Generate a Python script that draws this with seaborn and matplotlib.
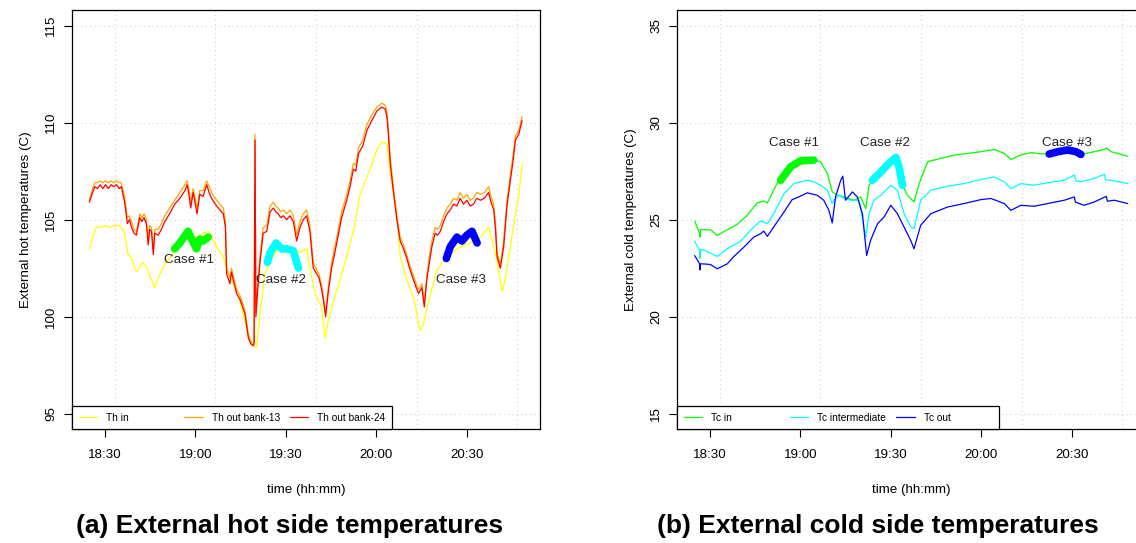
import matplotlib
matplotlib.use("Agg")
import matplotlib.pyplot as plt
import seaborn as sns
from matplotlib.lines import Line2D
from matplotlib.offsetbox import DrawingArea

# === Data (time in minutes after 18:00) ===
hot_time = [
    24.9, 26.0, 26.7, 27.6, 28.5, 29.4, 30.3, 31.2, 32.1, 33.0,
    33.9, 34.8, 35.5, 36.6, 37.5, 38.2, 38.9, 39.7, 40.5, 41.6,
    42.3, 43.0, 43.8, 44.4, 44.9, 45.5, 46.1, 46.6, 47.7, 48.8,
    49.9, 51.5, 53.2, 54.9, 56.6, 57.3, 57.9, 58.5, 59.3, 60.6,
    61.5, 62.6, 63.8, 64.6, 65.4, 66.2, 67.1, 68.2, 69.3, 70.0,
    70.4, 71.5, 72.0, 72.6, 73.7, 74.8, 75.7, 76.5, 77.6, 78.4,
    79.2, 79.5, 79.8, 80.1, 80.6, 81.4, 82.5, 83.7, 84.8, 85.9,
    86.7, 87.5, 88.3, 89.2, 90.3, 91.4, 92.5, 93.6, 94.7, 95.8,
    96.9, 98.0, 99.1, 100.3, 101.0, 101.9, 102.5, 103.2, 104.1, 105.2,
    106.9, 108.5, 110.2, 111.3, 112.4, 113.2, 114.1, 115.5, 116.9, 118.5,
    120.2, 121.8, 122.9, 123.5, 124.0, 124.6, 125.7, 126.8, 127.9, 129.0,
    130.1, 131.2, 132.3, 133.2, 134.0, 135.1, 135.9, 136.8, 137.6, 138.4,
    139.5, 140.3, 141.2, 142.3, 143.4, 144.5, 145.6, 146.7, 147.8, 148.9,
    150.0, 151.1, 152.2, 153.3, 154.5, 155.8, 157.2, 158.0, 158.9, 159.5,
    160.0, 161.1, 162.2, 163.3, 164.4, 165.3, 166.1, 167.2, 168.3,
]
th_out_24 = [
    105.9, 106.4, 106.7, 106.6, 106.8, 106.6, 106.8, 106.6, 106.8, 106.7,
    106.8, 106.6, 106.7, 105.9, 104.8, 105.0, 104.6, 104.3, 104.2, 105.1,
    104.9, 105.1, 104.8, 103.7, 104.5, 104.4, 103.2, 104.3, 104.2, 104.5,
    104.9, 105.3, 105.8, 106.1, 106.5, 106.8, 106.3, 105.6, 106.4, 105.3,
    106.3, 106.2, 106.8, 106.4, 106.1, 105.9, 105.7, 105.5, 105.3, 104.6,
    102.2, 101.7, 102.3, 101.9, 101.2, 100.9, 100.5, 100.1, 98.9, 98.6,
    98.5, 98.6, 109.1, 100.0, 101.2, 102.7, 104.3, 104.4, 105.4, 105.6,
    105.4, 105.3, 105.1, 105.2, 105.0, 105.2, 104.9, 103.9, 104.6, 105.0,
    105.2, 104.4, 102.5, 102.2, 102.0, 101.4, 100.8, 100.0, 101.3, 102.5,
    103.8, 105.1, 106.0, 106.7, 107.6, 107.5, 108.4, 108.8, 109.6, 110.1,
    110.6, 110.8, 110.7, 110.3, 109.4, 107.9, 106.4, 105.0, 103.9, 103.5,
    103.0, 102.4, 101.9, 101.5, 101.2, 101.5, 100.5, 102.0, 102.8, 103.6,
    104.3, 104.2, 104.4, 104.9, 105.3, 105.5, 105.8, 105.7, 106.1, 105.8,
    106.0, 105.7, 105.8, 106.1, 106.0, 106.1, 106.4, 105.9, 105.5, 104.5,
    103.1, 102.5, 103.6, 105.7, 107.0, 108.0, 109.1, 109.4, 110.1,
]
th_out_13 = [
    106.0, 106.6, 106.9, 106.9, 107.0, 106.9, 107.0, 106.9, 107.0, 106.9,
    107.0, 106.9, 106.9, 106.2, 105.1, 105.2, 104.9, 104.5, 104.4, 105.3,
    105.1, 105.3, 105.0, 104.0, 104.7, 104.6, 103.5, 104.5, 104.5, 104.8,
    105.2, 105.6, 106.0, 106.4, 106.8, 107.0, 106.6, 105.9, 106.6, 105.6,
    106.5, 106.5, 107.0, 106.7, 106.4, 106.2, 106.0, 105.8, 105.6, 104.9,
    102.5, 102.0, 102.5, 102.1, 101.4, 101.1, 100.7, 100.3, 99.1, 98.7,
    98.6, 98.7, 109.4, 100.2, 101.4, 103.0, 104.6, 104.7, 105.7, 105.9,
    105.7, 105.6, 105.4, 105.5, 105.3, 105.5, 105.2, 104.2, 104.9, 105.3,
    105.5, 104.7, 102.8, 102.4, 102.2, 101.6, 101.0, 100.2, 101.5, 102.8,
    104.1, 105.4, 106.3, 107.0, 107.9, 107.8, 108.7, 109.1, 109.9, 110.4,
    110.8, 111.0, 110.9, 110.6, 109.7, 108.2, 106.6, 105.2, 104.1, 103.7,
    103.2, 102.6, 102.1, 101.7, 101.4, 101.7, 100.7, 102.2, 103.1, 103.9,
    104.6, 104.5, 104.7, 105.2, 105.6, 105.8, 106.1, 106.0, 106.4, 106.1,
    106.3, 106.0, 106.1, 106.4, 106.3, 106.4, 106.7, 106.2, 105.8, 104.8,
    103.3, 102.7, 103.9, 106.0, 107.3, 108.3, 109.3, 109.6, 110.3,
]
th_in_time = [
    24.9, 26.0, 27.2, 28.5, 30.0, 31.7, 33.3, 35.0, 36.6, 37.7,
    38.9, 40.5, 41.5, 42.4, 43.8, 45.2, 46.6, 47.7, 49.9, 51.5,
    53.2, 55.0, 57.0, 59.0, 61.0, 62.6, 64.3, 65.7, 67.1, 69.3,
    70.9, 72.6, 74.8, 77.0, 78.7, 80.3, 81.4, 83.1, 84.8, 87.0,
    89.5, 92.0, 94.5, 96.9, 98.0, 99.7, 101.9, 103.0, 104.1, 105.8,
    109.1, 112.4, 114.6, 117.9, 120.2, 121.8, 123.5, 124.6, 125.7, 126.8,
    127.9, 130.1, 132.3, 134.5, 135.6, 136.8, 140.1, 142.3, 145.0, 148.0,
    151.0, 154.5, 157.2, 158.9, 160.0, 161.7, 162.8, 164.4, 166.1, 167.2,
    168.3,
]
th_in = [
    103.5, 104.1, 104.6, 104.6, 104.7, 104.6, 104.7, 104.7, 104.3, 103.2,
    103.0, 102.3, 102.5, 102.8, 102.6, 102.0, 101.5, 102.0, 102.7, 103.0,
    103.4, 103.8, 104.1, 104.2, 104.1, 104.3, 104.4, 104.0, 103.6, 103.1,
    102.2, 101.7, 100.8, 99.4, 98.6, 98.4, 100.1, 102.2, 102.9, 103.4,
    103.6, 103.5, 103.3, 103.5, 102.5, 101.2, 100.5, 98.9, 99.8, 100.8,
    102.5, 104.4, 106.3, 107.6, 108.6, 109.0, 108.9, 107.4, 106.3, 105.3,
    103.1, 101.9, 101.0, 99.3, 99.6, 100.5, 102.4, 102.9, 103.3, 103.6,
    103.8, 104.1, 104.6, 103.6, 102.9, 101.3, 102.0, 103.6, 105.3, 106.2,
    107.9,
]

hot_case_time = [
    [53.2, 54.9, 57.6, 58.8, 60.4, 61.5, 62.6, 64.3],
    [83.9, 84.8, 86.8, 88.6, 90.3, 92.5, 93.6, 94.2],
    [143.2, 144.5, 146.7, 148.4, 150.0, 151.7, 153.4],
]
hot_case_temp = [
    [103.5, 103.8, 104.4, 104.0, 103.5, 104.0, 103.9, 104.1],
    [102.8, 103.3, 103.8, 103.5, 103.5, 103.4, 102.8, 102.5],
    [103.0, 103.6, 104.1, 103.9, 104.2, 104.4, 103.8],
]
hot_label_pos = [(57.9, 102.9), (88.3, 101.9), (148.2, 101.9)]

tc_in_time = [
    25.0, 26.7, 26.8, 26.9, 30.2, 32.5, 35.8, 39.1, 42.4, 45.7,
    47.9, 49.1, 50.1, 52.4, 53.5, 56.8, 60.1, 64.5, 66.7, 69.0,
    70.6, 72.3, 74.5, 77.8, 80.0, 81.7, 82.8, 83.9, 86.7, 89.4,
    91.7, 92.7, 93.9, 95.5, 97.7, 99.4, 102.2, 106.6, 111.0, 115.4,
    119.8, 124.3, 127.6, 129.8, 133.1, 136.4, 139.8, 142.5, 145.3, 148.6,
    151.4, 153.0, 157.4, 160.8, 161.4, 163.0, 168.5,
]
tc_in = [
    24.93, 24.27, 24.1, 24.48, 24.48, 24.19, 24.48, 24.76, 25.22, 25.86,
    25.96, 25.86, 26.17, 26.9, 27.03, 27.72, 28.03, 28.07, 27.98, 27.38,
    26.43, 26.26, 26.17, 26.0, 26.17, 25.57, 26.77, 27.03, 27.46, 27.9,
    28.24, 27.72, 26.77, 26.26, 25.91, 26.86, 27.98, 28.16, 28.33, 28.41,
    28.5, 28.62, 28.41, 28.1, 28.33, 28.45, 28.4, 28.38, 28.5, 28.59,
    28.5, 28.36, 28.5, 28.62, 28.7, 28.5, 28.27,
]
tc_mid_time = [
    25.0, 26.7, 26.8, 26.9, 28.0, 32.5, 35.8, 40.2, 43.5, 46.8,
    49.1, 51.2, 54.6, 57.9, 62.3, 64.5, 66.7, 69.0, 70.6, 71.2,
    72.8, 74.5, 76.7, 79.5, 80.6, 81.7, 82.8, 84.4, 86.7, 90.0,
    92.2, 94.4, 96.6, 97.7, 99.9, 103.3, 108.8, 114.3, 119.8, 124.3,
    127.6, 129.8, 133.1, 137.5, 142.0, 147.5, 150.8, 151.4, 153.0, 157.4,
    160.8, 161.2, 163.0, 168.5,
]
tc_mid = [
    23.89, 23.41, 23.0, 23.45, 23.45, 23.1, 23.5, 23.89, 24.45, 24.93,
    24.8, 25.31, 26.34, 26.86, 27.03, 26.95, 26.77, 26.52, 25.83, 26.0,
    26.26, 26.1, 26.0, 26.0, 25.05, 24.1, 25.31, 26.0, 26.26, 26.77,
    26.52, 25.31, 24.62, 24.53, 26.0, 26.52, 26.72, 26.86, 27.07, 27.2,
    26.95, 26.6, 26.86, 26.77, 26.9, 27.03, 27.3, 27.0, 26.95, 27.12,
    27.34, 27.05, 27.03, 26.86,
]
tc_out_time = [
    25.0, 26.7, 26.8, 26.9, 28.0, 30.2, 32.5, 35.8, 38.0, 41.3,
    44.6, 46.8, 47.9, 49.1, 51.2, 54.6, 57.3, 59.5, 62.3, 65.6,
    67.8, 69.5, 70.6, 71.7, 73.4, 74.1, 75.0, 77.3, 78.9, 80.6,
    82.0, 83.3, 85.6, 87.8, 90.0, 92.2, 94.4, 96.6, 97.7, 99.9,
    103.3, 108.8, 114.3, 119.8, 123.2, 127.6, 129.8, 133.1, 137.5, 142.0,
    147.5, 150.8, 151.2, 154.1, 157.4, 161.4, 161.8, 164.1, 168.5,
]
tc_out = [
    23.15, 22.72, 22.41, 22.72, 22.72, 22.69, 22.47, 22.72, 23.1, 23.58,
    24.1, 24.27, 24.41, 24.14, 24.62, 25.39, 26.03, 26.17, 26.38, 26.26,
    26.0, 25.48, 24.83, 26.17, 27.03, 27.24, 26.0, 26.43, 26.17, 25.31,
    23.15, 23.93, 24.79, 25.14, 25.74, 25.31, 24.62, 23.93, 23.5, 24.71,
    25.31, 25.65, 25.83, 26.03, 26.09, 25.83, 25.48, 25.74, 25.69, 25.83,
    26.0, 26.17, 25.9, 25.74, 25.91, 26.2, 25.95, 26.0, 25.83,
]

cold_case_time = [
    [53.5, 56.8, 60.1, 64.5],
    [83.9, 86.7, 89.4, 91.7, 92.7, 93.9],
    [142.5, 145.3, 148.6, 151.4, 153.0],
]
cold_case_temp = [
    [27.03, 27.72, 28.03, 28.07],
    [27.03, 27.46, 27.9, 28.21, 27.72, 26.77],
    [28.38, 28.5, 28.59, 28.5, 28.36],
]
cold_label_pos = [(57.9, 28.93), (88.0, 28.93), (148.3, 28.93)]

case_names = ["Case #1", "Case #2", "Case #3"]
case_colors = ["#00FF00", "#00FFFF", "#0000FF"]

hot_labels = ["Th in", "Th out bank-13", "Th out bank-24"]
hot_colors = ["#FFFF00", "#FFA500", "#FF0000"]
cold_labels = ["Tc in", "Tc intermediate", "Tc out"]
cold_colors = ["#00FF00", "#00FFFF", "#0000FF"]

tick_pos = [30, 60, 90, 120, 150]
tick_labels = ["18:30", "19:00", "19:30", "20:00", "20:30"]
grid_pos = [100 / 3 * k for k in range(1, 6)]

# === Style ===
sns.set_style("ticks")
plt.rcParams["font.family"] = ["Liberation Sans", "DejaVu Sans"]
for key in ["text.color", "axes.labelcolor", "xtick.color", "ytick.color"]:
    plt.rcParams[key] = "black"
FS = 9.6
GRID = dict(color="#D3D3D3", linestyle=(0, (1, 3)), linewidth=0.8)

fig = plt.figure(figsize=(11.36, 5.43), dpi=100)
ax_hot = fig.add_axes([0.06338, 0.20939, 0.41197, 0.77219])
ax_cold = fig.add_axes([0.59595, 0.20939, 0.41197, 0.77219])


def draw_panel(ax, series, case_t, case_v, label_pos, ylim, yticks, ylabel, labels, colors):
    for t, v, c in series:
        sns.lineplot(x=t, y=v, color=c, lw=0.9, ax=ax, estimator=None, sort=False)
    for t, v, c in zip(case_t, case_v, case_colors):
        sns.lineplot(x=t, y=v, color=c, lw=5.5, ax=ax, estimator=None, sort=False,
                     solid_capstyle="round")
    for (x, y), name in zip(label_pos, case_names):
        ax.text(x, y, name, ha="center", va="center", fontsize=FS, color="#222222")

    ax.set_xlim(19.16, 174.24)
    ax.set_ylim(*ylim)
    ax.set_xticks(tick_pos)
    ax.set_xticklabels(tick_labels)
    ax.set_xticks(grid_pos, minor=True)
    ax.set_yticks(yticks)
    ax.grid(False)
    ax.grid(axis="x", which="minor", **GRID)
    ax.grid(axis="y", which="major", **GRID)
    ax.set_axisbelow(True)

    ax.tick_params(axis="x", which="minor", length=0)
    ax.tick_params(axis="x", which="major", length=6, width=0.8, pad=8, labelsize=FS)
    ax.tick_params(axis="y", length=6, width=0.8, pad=4.5, labelsize=FS, labelrotation=90)
    plt.setp(ax.get_yticklabels(), va="center")
    for sp in ax.spines.values():
        sp.set_visible(True)
        sp.set_color("black")
        sp.set_linewidth(0.9)

    ax.set_xlabel("time (hh:mm)", fontsize=FS, labelpad=16.5)
    ax.set_ylabel(ylabel, fontsize=FS, labelpad=10)

    handles = [Line2D([], [], color=c, lw=0.9) for c in colors]
    leg = ax.legend(handles, labels, loc="lower left", bbox_to_anchor=(0, 0), borderaxespad=0,
                    ncol=3, fontsize=7.3, handlelength=1.8, handletextpad=0.9,
                    columnspacing=1.0, borderpad=0.65, frameon=True, fancybox=False,
                    edgecolor="black", framealpha=1, facecolor="white")
    leg.get_frame().set_linewidth(0.9)
    return leg


leg_hot = draw_panel(ax_hot, [(th_in_time, th_in, hot_colors[0]),
                              (hot_time, th_out_13, hot_colors[1]),
                              (hot_time, th_out_24, hot_colors[2])],
                     hot_case_time, hot_case_temp, hot_label_pos,
                     (94.2, 115.8), [95, 100, 105, 110, 115],
                     "External hot temperatures (C)", hot_labels, hot_colors)
leg_cold = draw_panel(ax_cold, [(tc_in_time, tc_in, cold_colors[0]),
                                (tc_mid_time, tc_mid, cold_colors[1]),
                                (tc_out_time, tc_out, cold_colors[2])],
                      cold_case_time, cold_case_temp, cold_label_pos,
                      (14.2, 35.8), [15, 20, 25, 30, 35],
                      "External cold temperatures (C)", cold_labels, cold_colors)

# R-style legend: equal width columns
fig.canvas.draw()
r = fig.canvas.get_renderer()
pt = r.points_to_pixels(1.0)
for leg in (leg_hot, leg_cold):
    widths = [t.get_window_extent(r).width for t in leg.get_texts()]
    wmax = max(widths)
    sep = 0.9 * 7.3 * pt
    for col in leg._legend_handle_box.get_children():
        for item in col.get_children():
            txt = item.get_children()[1]._text
            w = txt.get_window_extent(r).width
            extra = wmax - w - sep
            if extra > 0:
                item.get_children().append(DrawingArea(extra / pt, 0))

fig.text(0.255, 0.031, "(a) External hot side temperatures", ha="center", va="center",
         fontsize=19, fontweight="bold", color="black")
fig.text(0.773, 0.031, "(b) External cold side temperatures", ha="center", va="center",
         fontsize=19, fontweight="bold", color="black")

fig.savefig("out.png", dpi=100)
